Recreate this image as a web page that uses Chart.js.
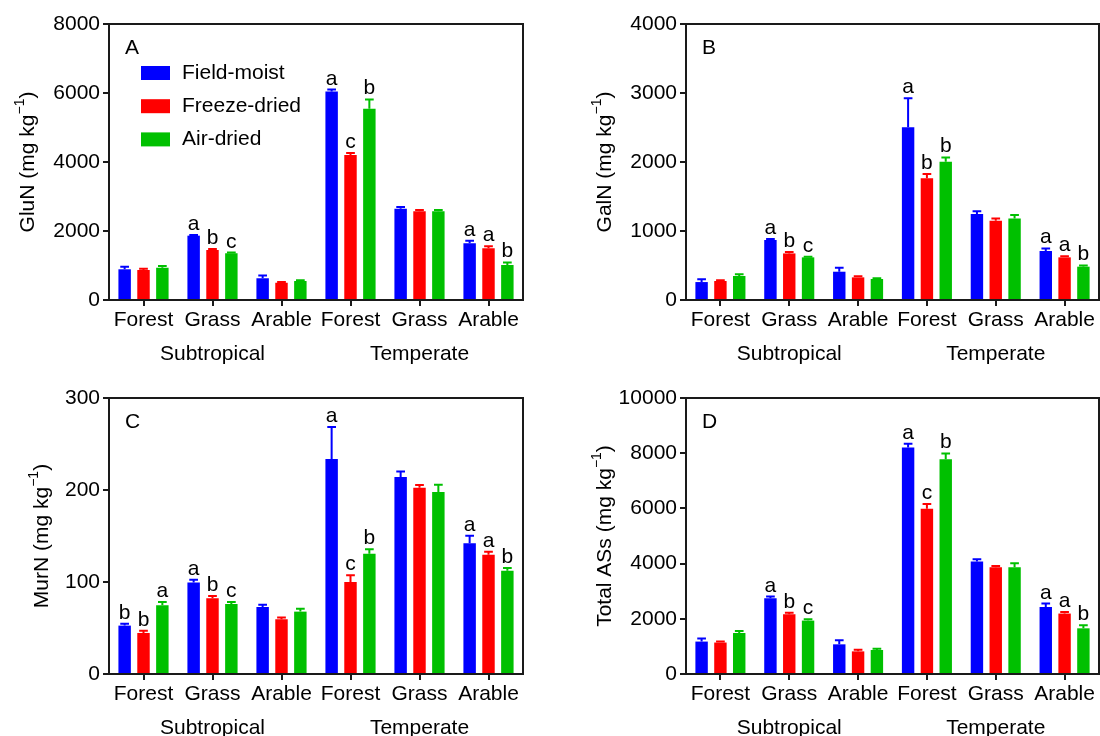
<!DOCTYPE html>
<html>
<head>
<meta charset="utf-8">
<script src="https://cdn.jsdelivr.net/npm/chart.js@4.4.1/dist/chart.umd.min.js"></script>
<style>
  body { margin: 0; background: #fff; }
  .panel { position: absolute; width: 550px; height: 368px; }
</style>
</head>
<body>
<div class="panel" style="left:0;top:0"><canvas id="chartA" width="550" height="368"></canvas></div>
<div class="panel" style="left:550px;top:0"><canvas id="chartB" width="550" height="368"></canvas></div>
<div class="panel" style="left:0;top:368px"><canvas id="chartC" width="550" height="368"></canvas></div>
<div class="panel" style="left:550px;top:368px"><canvas id="chartD" width="550" height="368"></canvas></div>
<script>
const categories = ['Forest', 'Grass', 'Arable', 'Forest', 'Grass', 'Arable'];
const climates = ['Subtropical', 'Temperate'];
const treatments = ['Field-moist', 'Freeze-dried', 'Air-dried'];
const colors = ['#0000ff', '#ff0000', '#00c000'];

// A - GluN
const gluNTicks = [0, 2000, 4000, 6000, 8000];
const gluNMoist = [890, 1865, 630, 6040, 2645, 1645];
const gluNFreeze = [870, 1450, 500, 4200, 2570, 1500];
const gluNAir = [935, 1355, 550, 5545, 2570, 1015];
const gluNMoistErr = [75, 20, 80, 60, 50, 75];
const gluNFreezeErr = [35, 30, 20, 60, 40, 55];
const gluNAirErr = [50, 20, 20, 270, 40, 75];
const gluNMoistSig = ['', 'a', '', 'a', '', 'a'];
const gluNFreezeSig = ['', 'b', '', 'c', '', 'a'];
const gluNAirSig = ['', 'c', '', 'b', '', 'b'];

// B - GalN
const galNTicks = [0, 1000, 2000, 3000, 4000];
const galNMoist = [260, 870, 410, 2505, 1245, 710];
const galNFreeze = [275, 675, 328, 1765, 1150, 618];
const galNAir = [348, 618, 304, 2005, 1180, 483];
const galNMoistErr = [40, 15, 58, 420, 40, 38];
const galNFreezeErr = [10, 20, 15, 62, 30, 15];
const galNAirErr = [25, 10, 10, 62, 52, 18];
const galNMoistSig = ['', 'a', '', 'a', '', 'a'];
const galNFreezeSig = ['', 'b', '', 'b', '', 'a'];
const galNAirSig = ['', 'c', '', 'b', '', 'b'];

// C - MurN
const murNTicks = [0, 100, 200, 300];
const murNMoist = [52.6, 99.4, 72.9, 233.6, 214, 142.2];
const murNFreeze = [44.6, 82.3, 59.5, 100.1, 202.4, 129.5];
const murNAir = [74.7, 76.2, 67.8, 130.6, 197.7, 112.1];
const murNMoistErr = [2, 3, 2.5, 35, 6, 8];
const murNFreezeErr = [2.5, 2.5, 2, 7.3, 3, 3.5];
const murNAirErr = [3.5, 2, 3, 5, 8, 3];
const murNMoistSig = ['b', 'a', '', 'a', '', 'a'];
const murNFreezeSig = ['b', 'b', '', 'c', '', 'a'];
const murNAirSig = ['a', 'c', '', 'b', '', 'b'];

// D - Total ASs
const totalTicks = [0, 2000, 4000, 6000, 8000, 10000];
const totalMoist = [1175, 2745, 1075, 8210, 4075, 2430];
const totalFreeze = [1140, 2165, 820, 5985, 3870, 2190];
const totalAir = [1485, 1935, 870, 7785, 3870, 1655];
const totalMoistErr = [110, 60, 145, 130, 80, 120];
const totalFreezeErr = [40, 50, 60, 170, 40, 60];
const totalAirErr = [70, 45, 45, 205, 145, 110];
const totalMoistSig = ['', 'a', '', 'a', '', 'a'];
const totalFreezeSig = ['', 'b', '', 'c', '', 'a'];
const totalAirSig = ['', 'c', '', 'b', '', 'b'];

const FONT = "'Liberation Sans', Arial, sans-serif";
Chart.defaults.font.family = FONT;
Chart.defaults.font.size = 21;
Chart.defaults.color = '#000';

// error bars, letters, frame, panel tag, legend and y title
const panelDecor = {
  id: 'panelDecor',
  afterDatasetsDraw(chart) {
    const ctx = chart.ctx, y = chart.scales.y;
    chart.data.datasets.forEach((ds, i) => {
      chart.getDatasetMeta(i).data.forEach((bar, j) => {
        const top = y.getPixelForValue(ds.data[j] + ds.errors[j]);
        const w = bar.width * 0.7;
        ctx.save();
        ctx.strokeStyle = ds.backgroundColor;
        ctx.lineWidth = 2;
        ctx.beginPath();
        ctx.moveTo(bar.x, bar.y);
        ctx.lineTo(bar.x, top);
        ctx.moveTo(bar.x - w / 2, top);
        ctx.lineTo(bar.x + w / 2, top);
        ctx.stroke();
        if (ds.sig[j]) {
          ctx.fillStyle = '#000';
          ctx.font = '21px ' + FONT;
          ctx.textAlign = 'center';
          ctx.textBaseline = 'alphabetic';
          ctx.fillText(ds.sig[j], bar.x, top - 5);
        }
        ctx.restore();
      });
    });
  },
  afterDraw(chart, args, o) {
    const ctx = chart.ctx, a = chart.chartArea;
    ctx.save();
    // top and right of the frame
    ctx.strokeStyle = '#1a1a1a';
    ctx.lineWidth = 2;
    ctx.beginPath();
    ctx.moveTo(a.left, a.top);
    ctx.lineTo(a.right, a.top);
    ctx.lineTo(a.right, a.bottom);
    ctx.stroke();

    ctx.fillStyle = '#000';
    ctx.font = '21px ' + FONT;
    ctx.textAlign = 'left';
    ctx.textBaseline = 'middle';
    ctx.fillText(o.tag, a.left + 16, a.top + 24);

    if (o.legend) {
      chart.data.datasets.forEach((ds, i) => {
        const cy = a.top + 49 + i * 33.2;
        ctx.fillStyle = ds.backgroundColor;
        ctx.fillRect(a.left + 32, cy - 7, 29, 14);
        ctx.fillStyle = '#000';
        ctx.fillText(ds.label, a.left + 73, cy);
      });
    }

    // y title with superscript
    const [main, sup, tail] = o.title;
    ctx.translate(o.titleX, (a.top + a.bottom) / 2);
    ctx.rotate(-Math.PI / 2);
    ctx.textBaseline = 'alphabetic';
    ctx.font = '21px ' + FONT;
    const wMain = ctx.measureText(main).width;
    const wTail = ctx.measureText(tail).width;
    ctx.font = '14px ' + FONT;
    const wSup = ctx.measureText(sup).width;
    let x = -(wMain + wSup + wTail) / 2;
    ctx.font = '21px ' + FONT;
    ctx.fillText(main, x, 8);
    x += wMain;
    ctx.font = '14px ' + FONT;
    ctx.fillText(sup, x, -2);
    x += wSup;
    ctx.font = '21px ' + FONT;
    ctx.fillText(tail, x, 8);
    ctx.restore();
  }
};

function makeChart(id, p) {
  const box = p.box;
  new Chart(document.getElementById(id), {
    type: 'bar',
    data: {
      labels: categories,
      datasets: treatments.map((t, i) => ({
        label: t,
        data: p.values[i],
        errors: p.errors[i],
        sig: p.sig[i],
        backgroundColor: colors[i],
        borderWidth: 0,
        categoryPercentage: 0.82,
        barPercentage: 0.66
      }))
    },
    options: {
      responsive: false,
      animation: false,
      devicePixelRatio: 1,
      layout: { padding: { left: 0, top: box.top, right: 550 - box.right, bottom: 0 } },
      plugins: {
        legend: { display: false },
        tooltip: { enabled: false },
        panelDecor: { tag: p.tag, legend: p.legend, title: p.title, titleX: p.titleX }
      },
      scales: {
        x: {
          position: 'bottom',
          grid: { display: true, drawOnChartArea: false, drawTicks: true, tickLength: 6, offset: false, color: '#1a1a1a', lineWidth: 2 },
          border: { display: true, color: '#1a1a1a', width: 2 },
          ticks: { autoSkip: false, maxRotation: 0, padding: 2 },
          afterFit: s => { s.height = 34; s.paddingLeft = 0; s.paddingRight = 0; }
        },
        x2: {
          type: 'category',
          position: 'bottom',
          labels: climates,
          offset: true,
          grid: { display: false },
          border: { display: false },
          ticks: { autoSkip: false, maxRotation: 0, padding: 0 },
          afterFit: s => { s.height = 368 - box.bottom - 34; s.paddingLeft = 0; s.paddingRight = 0; }
        },
        y: {
          min: p.ticks[0],
          max: p.ticks[p.ticks.length - 1],
          grid: { drawOnChartArea: false, drawTicks: true, tickLength: 6, color: '#1a1a1a', lineWidth: 2 },
          border: { display: true, color: '#1a1a1a', width: 2 },
          ticks: {
            stepSize: p.ticks[1] - p.ticks[0],
            padding: 3,
            callback: v => String(v)
          },
          afterFit: s => { s.width = box.left; s.paddingTop = 0; s.paddingBottom = 0; }
        }
      }
    },
    plugins: [panelDecor]
  });
}

makeChart('chartA', {
  values: [gluNMoist, gluNFreeze, gluNAir],
  errors: [gluNMoistErr, gluNFreezeErr, gluNAirErr],
  sig: [gluNMoistSig, gluNFreezeSig, gluNAirSig],
  ticks: gluNTicks, tag: 'A', legend: true,
  title: ['GluN (mg kg', '\u22121', ')'], titleX: 26,
  box: { left: 109, right: 523, top: 24, bottom: 300 }
});
makeChart('chartB', {
  values: [galNMoist, galNFreeze, galNAir],
  errors: [galNMoistErr, galNFreezeErr, galNAirErr],
  sig: [galNMoistSig, galNFreezeSig, galNAirSig],
  ticks: galNTicks, tag: 'B', legend: false,
  title: ['GalN (mg kg', '\u22121', ')'], titleX: 53,
  box: { left: 136, right: 549, top: 24, bottom: 300 }
});
makeChart('chartC', {
  values: [murNMoist, murNFreeze, murNAir],
  errors: [murNMoistErr, murNFreezeErr, murNAirErr],
  sig: [murNMoistSig, murNFreezeSig, murNAirSig],
  ticks: murNTicks, tag: 'C', legend: false,
  title: ['MurN (mg kg', '\u22121', ')'], titleX: 40,
  box: { left: 109, right: 523, top: 30, bottom: 306 }
});
makeChart('chartD', {
  values: [totalMoist, totalFreeze, totalAir],
  errors: [totalMoistErr, totalFreezeErr, totalAirErr],
  sig: [totalMoistSig, totalFreezeSig, totalAirSig],
  ticks: totalTicks, tag: 'D', legend: false,
  title: ['Total ASs (mg kg', '\u22121', ')'], titleX: 53,
  box: { left: 136, right: 549, top: 30, bottom: 306 }
});
</script>
</body>
</html>
